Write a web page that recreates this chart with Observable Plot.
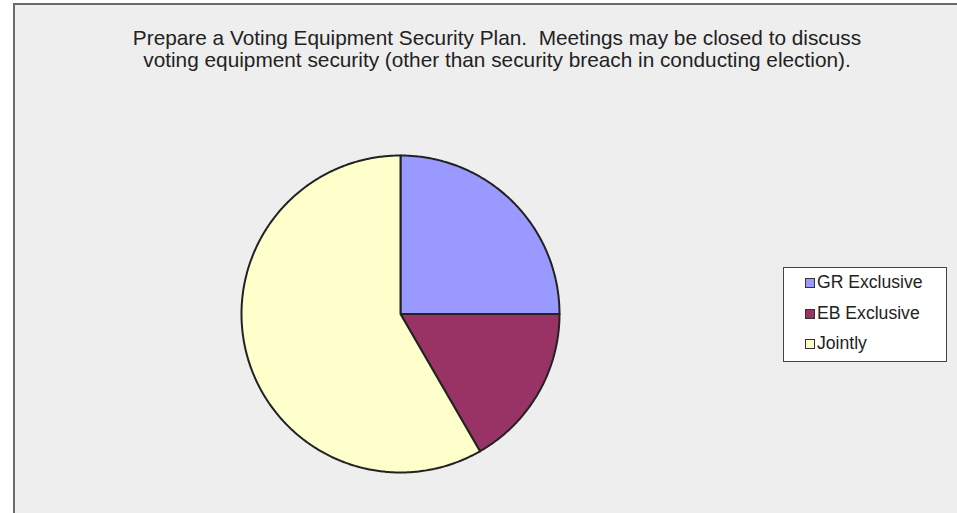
<!DOCTYPE html>
<html><head><meta charset="utf-8">
<script src="https://cdn.jsdelivr.net/npm/d3@7"></script>
<script src="https://cdn.jsdelivr.net/npm/@observablehq/plot@0.6"></script>
<style>
html,body{margin:0;padding:0;background:#fff;width:957px;height:513px;overflow:hidden;font-family:"Liberation Sans",Arial,sans-serif;}
#frame{position:absolute;left:13px;top:3px;width:944px;height:510px;background:#eeeeee;border-left:2px solid #6a6a6a;border-top:2px solid #6a6a6a;box-sizing:border-box;}
#title{position:absolute;left:30px;width:934px;top:27px;text-align:center;font-size:20.8px;line-height:21.5px;color:#222;white-space:nowrap;}
#chart{position:absolute;left:0;top:0;}
#legend{position:absolute;left:783px;top:267px;width:164px;height:95px;background:#fff;border:1px solid #444;box-sizing:border-box;}
.item{position:absolute;left:21px;font-size:17.6px;color:#222;display:flex;align-items:center;}
.sw{width:8px;height:8px;border:1.6px solid #333;margin-right:2px;}
</style></head>
<body>
<div id="frame"></div>
<div id="chart"></div>
<div id="title">Prepare a Voting Equipment Security Plan.&nbsp; Meetings may be closed to discuss<br>voting equipment security (other than security breach in conducting election).</div>
<div id="legend"></div>
<script>
const categories = ["GR Exclusive", "EB Exclusive", "Jointly"];
const values = [3, 2, 7];
const colors = ["#9999ff", "#993366", "#ffffcc"];

const data = categories.map((c, i) => ({key: c, value: values[i]}));
const arcs = d3.pie().sort(null).value(d => d.value).startAngle(0).endAngle(2 * Math.PI)(data);
const pts = [];
for (const a of arcs) {
  const k = a.data.key;
  pts.push({key: k, x: 0, y: 0});
  const n = Math.max(2, Math.ceil((a.endAngle - a.startAngle) / 0.01));
  for (let j = 0; j <= n; j++) {
    const t = a.startAngle + (a.endAngle - a.startAngle) * j / n;
    pts.push({key: k, x: Math.sin(t), y: Math.cos(t)});
  }
  pts.push({key: k, x: 0, y: 0});
}

const chart = Plot.plot({
  width: 957, height: 513,
  margin: 0,
  style: {background: "transparent", overflow: "visible"},
  x: {domain: [-1, 1], range: [241, 559], axis: null},
  y: {domain: [-1, 1], range: [472, 155], axis: null},
  color: {domain: categories, range: colors},
  marks: [
    Plot.line(pts, {x: "x", y: "y", z: "key", fill: "key", stroke: "#222", strokeWidth: 2, strokeLinejoin: "round"})
  ]
});
document.getElementById("chart").appendChild(chart);

const leg = document.getElementById("legend");
const rowsY = [4, 35, 65];
categories.forEach((c, i) => {
  const d = document.createElement("div");
  d.className = "item";
  d.style.top = rowsY[i] + "px";
  d.innerHTML = `<span class="sw" style="background:${colors[i]}"></span><span>${c}</span>`;
  leg.appendChild(d);
});
</script>
</body></html>
